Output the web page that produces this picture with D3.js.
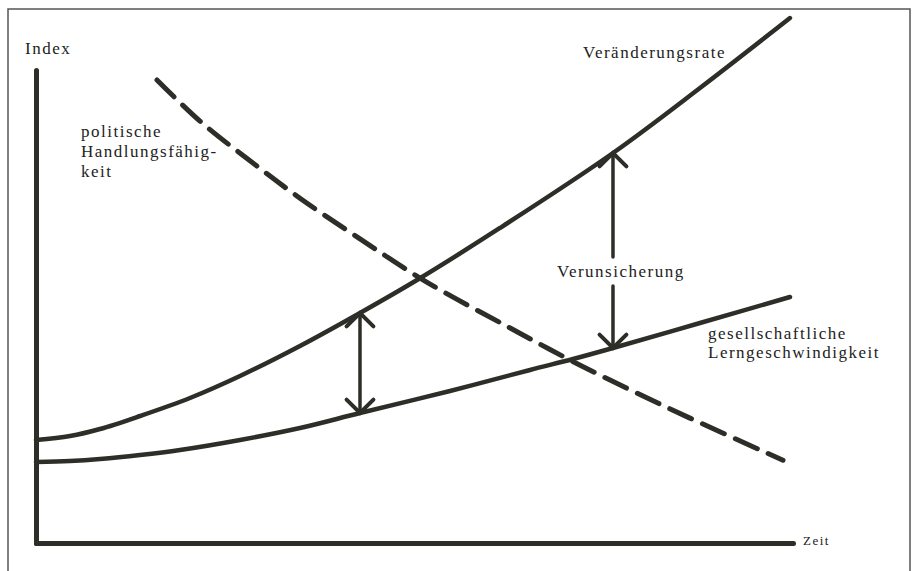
<!DOCTYPE html>
<html>
<head>
<meta charset="utf-8">
<script src="https://cdn.jsdelivr.net/npm/d3@7"></script>
<style>
  body { margin: 0; background: #fff; }
  text { font-family: "Liberation Serif", "DejaVu Serif", serif; font-size: 17px; fill: #222; letter-spacing: 1.5px; }
</style>
</head>
<body>
<div id="chart"></div>
<script>
// Zeit (x) and Index (y), both on a 0-100 scale
const rateX = [0, 4.49, 8.45, 13.74, 20.34, 26.95, 34.87, 42.8, 50.33, 61.29, 76.22, 87.71, 99.6];
const rateY = [21.78, 22.62, 24.1, 26.85, 30.66, 35.31, 41.65, 48.63, 55.6, 66.6, 82.45, 96.19, 110.99];

const learnX = [0, 4.49, 8.45, 13.74, 19.02, 26.95, 34.87, 42.8, 54.69, 65.26, 70.94, 76.22, 87.71, 99.6];
const learnY = [17.12, 17.34, 17.76, 18.6, 19.66, 21.78, 24.31, 27.48, 32.14, 36.58, 38.9, 41.23, 46.51, 52.01];

const policyX = [15.98, 21.66, 28.27, 34.87, 42.8, 51.78, 62.35, 70.28, 78.2, 86.39, 98.68];
const policyY = [97.9, 89.2, 80.8, 72.9, 64.3, 55.0, 45.7, 38.9, 32.6, 26.4, 17.5];

// double arrows "Verunsicherung"
const arrowX = [42.8, 76.22];
const arrowTop = [48.63, 82.45];
const arrowBottom = [27.48, 41.23];

const width = 914;
const height = 571;
const ink = "#2e2e28";

const svg = d3
  .select("#chart")
  .append("svg")
  .attr("width", width)
  .attr("height", height);

// frame of the scan
svg
  .append("rect")
  .attr("x", 8)
  .attr("y", 9)
  .attr("width", 902)
  .attr("height", 580)
  .attr("fill", "none")
  .attr("stroke", "#555")
  .attr("stroke-width", 1.5);

const x = d3.scaleLinear().domain([0, 100]).range([36, 793]);
const y = d3.scaleLinear().domain([0, 100]).range([543, 70]);

// axes without ticks
const xAxis = d3.axisBottom(x).tickValues([]).tickSizeOuter(0);
const yAxis = d3.axisLeft(y).tickValues([]).tickSizeOuter(0);

const gx = svg.append("g").attr("transform", "translate(0,543)").call(xAxis);
const gy = svg.append("g").attr("transform", "translate(36,0)").call(yAxis);
[gx, gy].forEach((g) => {
  g.select(".domain")
    .attr("stroke", ink)
    .attr("stroke-width", 5)
    .attr("stroke-linecap", "round");
});

const line = d3
  .line()
  .x((d) => x(d[0]))
  .y((d) => y(d[1]))
  .curve(d3.curveCatmullRom.alpha(0.5));

const series = [
  { xs: rateX, ys: rateY, dash: null, w: 4.5 },
  { xs: learnX, ys: learnY, dash: null, w: 4.5 },
  { xs: policyX, ys: policyY, dash: "24 12", w: 5 },
];

series.forEach((s) => {
  svg
    .append("path")
    .attr("d", line(d3.zip(s.xs, s.ys)))
    .attr("fill", "none")
    .attr("stroke", ink)
    .attr("stroke-width", s.w)
    .attr("stroke-linecap", "round")
    .attr("stroke-dasharray", s.dash);
});

// arrows
const headLen = 19;
arrowX.forEach((ax, i) => {
  const px = x(ax);
  const top = y(arrowTop[i]);
  const bot = y(arrowBottom[i]);
  const g = svg
    .append("g")
    .attr("stroke", ink)
    .attr("fill", "none")
    .attr("stroke-linecap", "round");

  if (i === 1) {
    // shaft broken by the label
    g.append("line").attr("x1", px).attr("x2", px).attr("y1", top).attr("y2", 257).attr("stroke-width", 3.5);
    g.append("line").attr("x1", px).attr("x2", px).attr("y1", 286).attr("y2", bot).attr("stroke-width", 3.5);
  } else {
    g.append("line").attr("x1", px).attr("x2", px).attr("y1", top).attr("y2", bot).attr("stroke-width", 3.5);
  }
  const d = headLen * Math.SQRT1_2;
  g.append("path")
    .attr("d", `M${px - d},${top + d}L${px},${top}L${px + d},${top + d}`)
    .attr("stroke-width", 4);
  g.append("path")
    .attr("d", `M${px - d},${bot - d}L${px},${bot}L${px + d},${bot - d}`)
    .attr("stroke-width", 4);
});

// labels
const labels = [
  { t: "Index", x: 25, y: 54 },
  { t: "Veränderungsrate", x: 583, y: 58 },
  { t: "politische", x: 81, y: 137 },
  { t: "Handlungsfähig-", x: 81, y: 157 },
  { t: "keit", x: 81, y: 177 },
  { t: "Verunsicherung", x: 557, y: 277 },
  { t: "gesellschaftliche", x: 708, y: 339 },
  { t: "Lerngeschwindigkeit", x: 708, y: 358 },
  { t: "Zeit", x: 803, y: 545, size: 13 },
];

svg
  .selectAll(".label")
  .data(labels)
  .enter()
  .append("text")
  .attr("class", "label")
  .attr("x", (d) => d.x)
  .attr("y", (d) => d.y)
  .style("font-size", (d) => (d.size ? d.size + "px" : null))
  .text((d) => d.t);
</script>
</body>
</html>
